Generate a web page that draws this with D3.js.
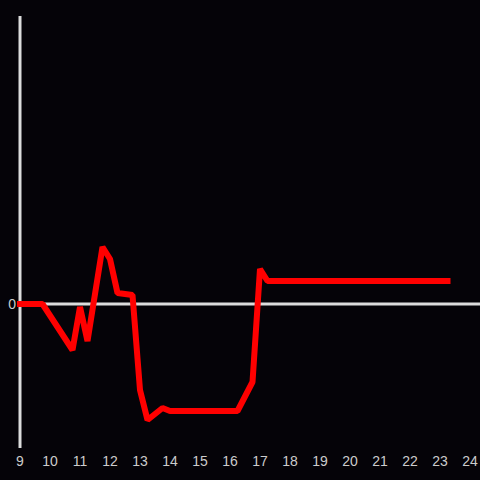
<!DOCTYPE html>
<html>
<head>
<meta charset="utf-8">
<script src="https://cdn.jsdelivr.net/npm/d3@7"></script>
<style>
  html, body { margin: 0; padding: 0; background: #050308; }
  svg { display: block; }
</style>
</head>
<body>
<div id="chart"></div>
<script>
var width = 480;    // 画布宽度
var height = 480;   // 画布高度

// 数据
var hours = [9, 9.75, 10.75, 11, 11.25, 11.75, 12, 12.25, 12.75, 13, 13.25, 13.75, 14, 16.25, 16.75, 17, 17.25, 23.25];
var values = [0, 0, -46, -3, -37, 57, 45, 11, 9, -86, -116, -104, -107, -107, -78, 35, 23, 23];
var xTicks = [9, 10, 11, 12, 13, 14, 15, 16, 17, 18, 19, 20, 21, 22, 23, 24];
var yTicks = [0];

var svg = d3.select("#chart")
  .append("svg")
  .attr("width", width)
  .attr("height", height);

svg.append("rect")
  .attr("width", width)
  .attr("height", height)
  .attr("fill", "#050308");

var x = d3.scaleLinear().domain([9, 24]).range([20, 470]);
var y = d3.scaleLinear().domain([-144, 288]).range([448, 16]);

// y 轴
svg.append("line")
  .attr("x1", x(9)).attr("x2", x(9))
  .attr("y1", y(-144)).attr("y2", y(288))
  .attr("stroke", "#dcdcdc")
  .attr("stroke-width", 3);

// 零线
svg.append("line")
  .attr("x1", x(9)).attr("x2", width)
  .attr("y1", y(0)).attr("y2", y(0))
  .attr("stroke", "#dcdcdc")
  .attr("stroke-width", 3);

// x 刻度标签
svg.selectAll(".xt")
  .data(xTicks)
  .enter()
  .append("text")
  .attr("class", "xt")
  .attr("x", function (d) { return x(d); })
  .attr("y", 466)
  .attr("text-anchor", "middle")
  .attr("fill", "#cccccc")
  .style("font-family", "Liberation Sans, Arial, sans-serif")
  .style("font-size", "14px")
  .text(function (d) { return d; });

// y 刻度标签
svg.selectAll(".yt")
  .data(yTicks)
  .enter()
  .append("text")
  .attr("class", "yt")
  .attr("x", 16)
  .attr("y", function (d) { return y(d); })
  .attr("dy", "0.35em")
  .attr("text-anchor", "end")
  .attr("fill", "#cccccc")
  .style("font-family", "Liberation Sans, Arial, sans-serif")
  .style("font-size", "14px")
  .text(function (d) { return d; });

// 折线
var line = d3.line()
  .x(function (d, i) { return x(hours[i]); })
  .y(function (d) { return y(d); });

svg.append("path")
  .datum(values)
  .attr("d", line)
  .attr("fill", "none")
  .attr("stroke", "#ff0000")
  .attr("stroke-width", 6)
  .attr("stroke-linecap", "square")
  .attr("stroke-linejoin", "bevel");
</script>
</body>
</html>
